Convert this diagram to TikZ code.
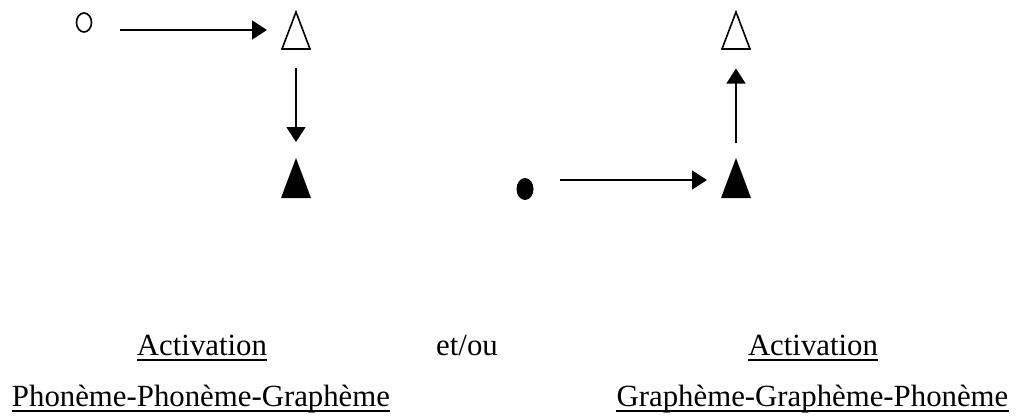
\documentclass[tikz,border=0pt]{standalone}
\usepackage{fontspec}
\setmainfont{Liberation Serif}
\usetikzlibrary{arrows.meta,shapes.geometric}
\begin{document}
\begin{tikzpicture}[x=1pt,y=-1pt,
  conn/.style={line width=1.6pt,-{Triangle[length=15pt,width=19pt]}},
  tri/.style={minimum width=28pt,minimum height=37pt,inner sep=0pt,outer sep=0pt},
  ftri/.style={minimum width=30pt,minimum height=40pt,inner sep=0pt,outer sep=0pt},
  lbl/.style={font=\fontsize{30.8}{37}\selectfont,inner sep=0pt,anchor=base},
  ul/.style={line width=1.8pt}]
\useasboundingbox (0,0) rectangle (1020,418);
% dots
\node[draw,line width=1.6pt,ellipse,minimum width=15pt,minimum height=19pt,inner sep=0pt] (O) at (84,22.5) {};
\node[fill=black,ellipse,minimum width=17pt,minimum height=22pt,inner sep=0pt] (D) at (525,189) {};
% triangles
\node[tri] (T1) at (296,30.5) {};
\draw[line width=1.6pt] (T1.south west) -- (T1.north) -- (T1.south east) -- cycle;
\node[ftri] (T2) at (296,178) {};
\fill (T2.south west) -- (T2.north) -- (T2.south east) -- cycle;
\node[tri] (T3) at (736,30.5) {};
\draw[line width=1.6pt] (T3.south west) -- (T3.north) -- (T3.south east) -- cycle;
\node[ftri] (T4) at (736,178) {};
\fill (T4.south west) -- (T4.north) -- (T4.south east) -- cycle;
% connectors
\coordinate (a1) at (120,30);
\draw[conn,shorten >=15pt] (a1) -- (T1.west |- a1);
\draw[conn,shorten <=18.5pt,shorten >=16pt] (T1.south) -- (T2.north);
\draw[conn,shorten <=15pt,shorten >=19.5pt] (T4.north) -- (T3.south);
\coordinate (a2) at (560,180);
\draw[conn,shorten >=14pt] (a2) -- (T4.west |- a2);
% labels
\node[lbl] (act1) at (202,355) {Activation};
\node[lbl] (pp) at (201,406) {Phonème-Phonème-Graphème};
\node[lbl] (et) at (467,355) {et/ou};
\node[lbl] (act2) at (813,355) {Activation};
\node[lbl] (gg) at (812.5,406) {Graphème-Graphème-Phonème};
\draw[ul] ([yshift=-5pt]act1.base west) -- ([yshift=-5pt]act1.base east);
\draw[ul] ([yshift=-5pt]pp.base west) -- ([yshift=-5pt]pp.base east);
\draw[ul] ([yshift=-5pt]act2.base west) -- ([yshift=-5pt]act2.base east);
\draw[ul] ([yshift=-5pt]gg.base west) -- ([yshift=-5pt]gg.base east);
\end{tikzpicture}
\end{document}
